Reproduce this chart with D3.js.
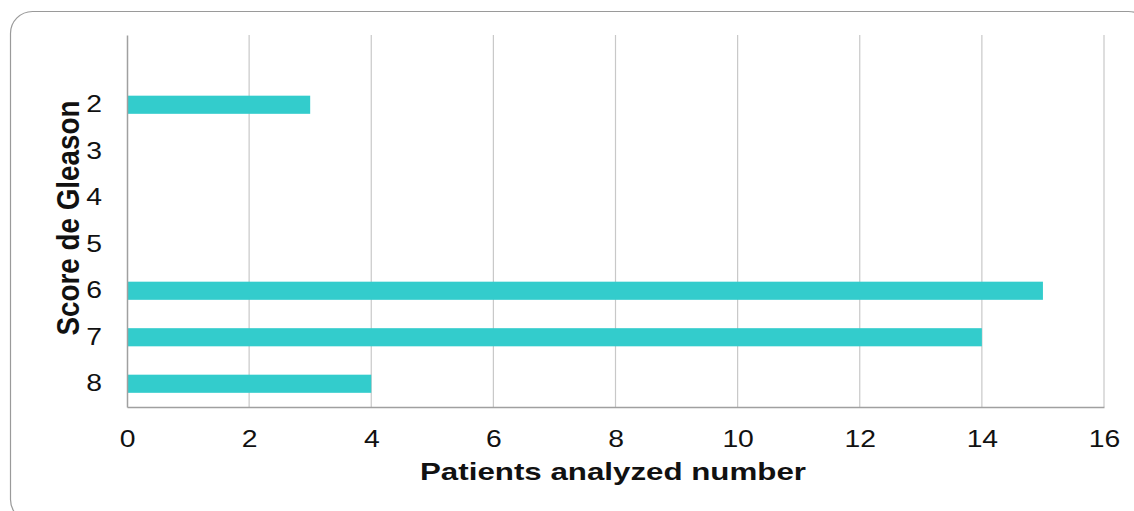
<html>
<head>
<meta charset="utf-8">
<style>
body { margin: 0; background: #fff; }
text { font-family: "Liberation Sans", Arial, sans-serif; }
</style>
<script src="https://d3js.org/d3.v7.min.js"></script>
</head>
<body>
<div id="chart"></div>
<script>
// data (top band has no label)
const categories = ["", "2", "3", "4", "5", "6", "7", "8"];
const values = [0, 3, 0, 0, 0, 15, 14, 4];
const xTicks = [0, 2, 4, 6, 8, 10, 12, 14, 16];

const W = 1134, H = 511;
const margin = {top: 35, left: 127};
const width = 1104 - margin.left,
    height = 407 - margin.top;
const stretch = 1.18; // the source text is a bit wide

const root = d3.select("#chart").append("svg")
  .attr("width", W).attr("height", H);

// rounded frame
root.append("rect")
  .attr("x", 10.5).attr("y", 11.5)
  .attr("width", 1140).attr("height", 510)
  .attr("rx", 22)
  .attr("fill", "none")
  .attr("stroke", "#9a9a9a")
  .attr("stroke-width", 1.2);

const svg = root.append("g")
  .attr("transform", `translate(${margin.left},${margin.top})`);

const x = d3.scaleLinear().domain([0, 16]).range([0, width]);
const y = d3.scaleBand().domain(categories).range([0, height]).paddingInner(0.61).paddingOuter(0.305);

// gridlines
svg.append("g")
  .selectAll("line")
  .data(xTicks.slice(1))
  .join("line")
    .attr("x1", d => x(d)).attr("x2", d => x(d))
    .attr("y1", 0).attr("y2", height)
    .attr("stroke", "#c8c8c8")
    .attr("stroke-width", 1.2);

// bars
svg.append("g")
  .selectAll("rect")
  .data(categories.map((c, i) => ({c: c, v: values[i]})).filter(d => d.v > 0))
  .join("rect")
    .attr("x", 0)
    .attr("y", d => y(d.c))
    .attr("width", d => x(d.v))
    .attr("height", y.bandwidth())
    .attr("fill", "#33cccc");

// x axis
const xAxis = svg.append("g")
  .attr("transform", `translate(0,${height})`)
  .call(d3.axisBottom(x).tickValues(xTicks).tickSize(0));
xAxis.select(".domain").attr("stroke", "#a0a0a0").attr("stroke-width", 1.5);
xAxis.selectAll("text")
  .attr("y", 40).attr("dy", null)
  .attr("font-size", 24).attr("fill", "#111")
  .attr("transform", `scale(${stretch},1)`)
  .style("font-family", "Liberation Sans, Arial, sans-serif");

// y axis
const yAxis = svg.append("g")
  .call(d3.axisLeft(y).tickSize(0));
yAxis.select(".domain").attr("stroke", "#a0a0a0").attr("stroke-width", 1.5);
yAxis.selectAll("text")
  .attr("x", -25 / stretch)
  .attr("font-size", 24).attr("fill", "#111")
  .attr("transform", `scale(${stretch},1)`)
  .style("font-family", "Liberation Sans, Arial, sans-serif");

// axis titles
root.append("text")
  .attr("x", 613).attr("y", 480)
  .attr("text-anchor", "middle")
  .attr("textLength", 386).attr("lengthAdjust", "spacingAndGlyphs")
  .attr("font-size", 24).attr("font-weight", "bold").attr("fill", "#111")
  .text("Patients analyzed number");

root.append("text")
  .attr("transform", "translate(79,218) rotate(-90) scale(1,1.3)")
  .attr("text-anchor", "middle")
  .attr("textLength", 235).attr("lengthAdjust", "spacingAndGlyphs")
  .attr("font-size", 24).attr("font-weight", "bold").attr("fill", "#111")
  .text("Score de Gleason");
</script>
</body>
</html>
